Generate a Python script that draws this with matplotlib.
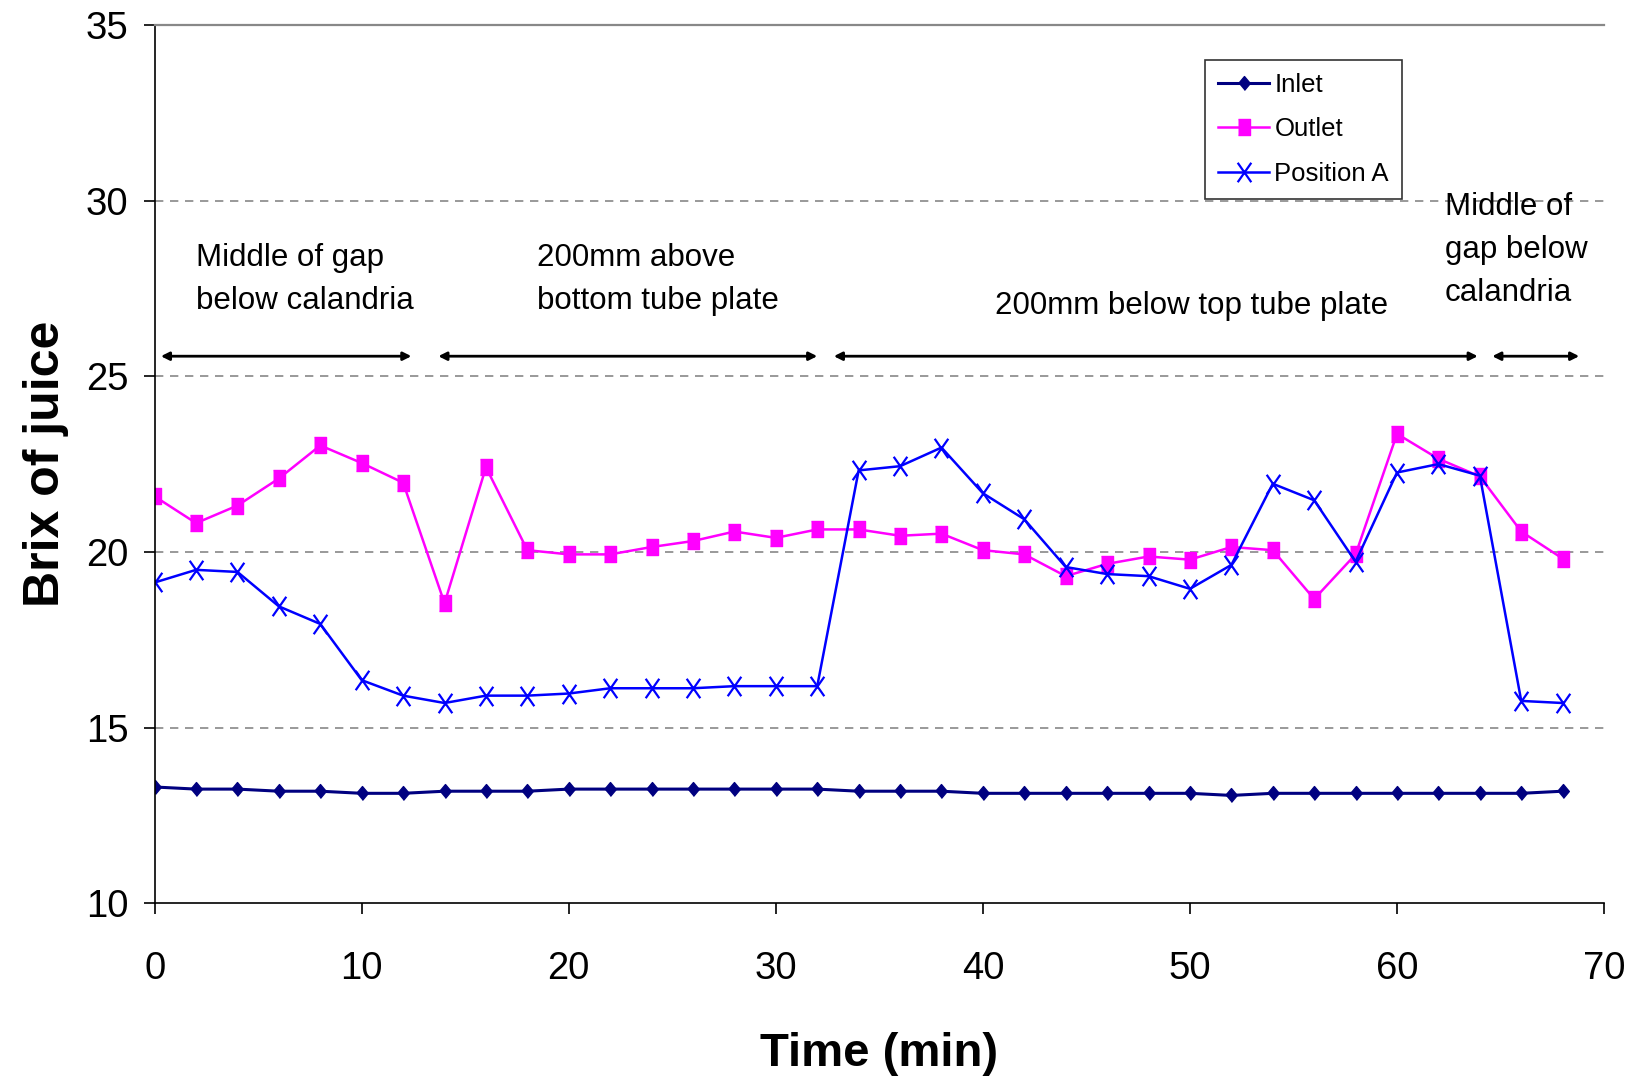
import matplotlib
matplotlib.use("Agg")
import matplotlib.pyplot as plt
from matplotlib.path import Path

plt.rcParams['font.family'] = ['Liberation Sans', 'DejaVu Sans']

time_min = list(range(0, 70, 2))

inlet = [13.31, 13.25, 13.25, 13.19, 13.19, 13.13, 13.13, 13.19, 13.19, 13.19,
         13.25, 13.25, 13.25, 13.25, 13.25, 13.25, 13.25, 13.19, 13.19, 13.19,
         13.13, 13.13, 13.13, 13.13, 13.13, 13.13, 13.07, 13.13, 13.13, 13.13,
         13.13, 13.13, 13.13, 13.13, 13.19]

outlet = [21.58, 20.82, 21.32, 22.09, 23.03, 22.53, 21.97, 18.54, 22.41, 20.05,
          19.93, 19.93, 20.14, 20.31, 20.58, 20.40, 20.64, 20.64, 20.46, 20.52,
          20.05, 19.93, 19.31, 19.66, 19.87, 19.78, 20.14, 20.05, 18.66, 19.93,
          23.36, 22.65, 22.15, 20.58, 19.81]

position_a = [19.13, 19.49, 19.43, 18.45, 17.95, 16.35, 15.91, 15.70, 15.91, 15.91,
              15.97, 16.12, 16.12, 16.12, 16.18, 16.18, 16.18, 22.32, 22.44, 22.97,
              21.67, 20.93, 19.57, 19.37, 19.31, 18.95, 19.63, 21.94, 21.47, 19.72,
              22.26, 22.50, 22.17, 15.76, 15.70]

# measurement position spans (start, end) and labels
spans = [(0.3, 12.4), (13.7, 32.0), (32.8, 63.9), (64.6, 68.8)]
span_labels = ["Middle of gap\nbelow calandria", "200mm above\nbottom tube plate",
               "200mm below top tube plate", "Middle of\ngap below\ncalandria"]
label_pos = [(2.0, 27.76), (18.45, 27.76), (40.6, 26.99), (62.3, 28.59)]

# slightly tall markers like the original Excel chart
tall_diamond = [(0, -0.5), (0.42, 0), (0, 0.5), (-0.42, 0)]
tall_square = [(-0.36, -0.5), (0.36, -0.5), (0.36, 0.5), (-0.36, 0.5)]
tall_x = Path([(-0.35, -0.5), (0.35, 0.5), (-0.35, 0.5), (0.35, -0.5)],
              [Path.MOVETO, Path.LINETO, Path.MOVETO, Path.LINETO])

fig = plt.figure(figsize=(16.28, 10.76), dpi=100)
ax = fig.add_axes([0.095, 0.1605, 0.8903, 0.8164])

ax.plot(time_min, inlet, color='#000080', marker=tall_diamond, markersize=10, lw=2.2,
        label='Inlet')
ax.plot(time_min, outlet, color='#FF00FF', marker=tall_square, markersize=12, lw=1.8,
        label='Outlet')
ax.plot(time_min, position_a, color='#0000FF', marker=tall_x, markersize=14, mew=1.6,
        mfc='none', lw=1.8, label='Position A')

for (x0, x1) in spans:
    ax.annotate('', xy=(x0, 25.57), xytext=(x1, 25.57),
                arrowprops=dict(arrowstyle='<|-|>', color='black', lw=2,
                                mutation_scale=12, shrinkA=0, shrinkB=0))
for txt, (x, y) in zip(span_labels, label_pos):
    ax.text(x, y, txt, fontsize=22.5, ha='left', va='center', linespacing=1.55)

ax.set_xlim(0, 70)
ax.set_ylim(10, 35)
ax.set_xticks(range(0, 71, 10))
ax.set_yticks(range(10, 36, 5))
ax.tick_params(labelsize=27.5, direction='out', length=8, width=1.2)
ax.tick_params(axis='x', pad=26)
ax.tick_params(axis='y', pad=11)
for y in [15, 20, 25, 30]:
    ax.axhline(y, color='#888888', ls=(0, (5, 4)), lw=1.2, zorder=0)
ax.spines['top'].set_color('#888888')
ax.spines['top'].set_linewidth(1.6)
ax.spines['right'].set_visible(False)
ax.spines['left'].set_linewidth(1.2)
ax.spines['bottom'].set_linewidth(1.2)

ax.set_xlabel('Time (min)', fontsize=34, fontweight='bold')
ax.set_ylabel('Brix of juice', fontsize=36, fontweight='bold')
ax.xaxis.set_label_coords(0.5, -0.146)
ax.yaxis.set_label_coords(-0.059, 0.5)

leg = ax.legend(loc='upper left', bbox_to_anchor=(0.7247, 0.960), fontsize=18.5,
                frameon=True, fancybox=False, edgecolor='black', handlelength=2.0,
                handletextpad=0.2, borderpad=0.5, labelspacing=0.8, borderaxespad=0)
leg.get_frame().set_linewidth(1.2)

fig.savefig('out.png', dpi=100)
